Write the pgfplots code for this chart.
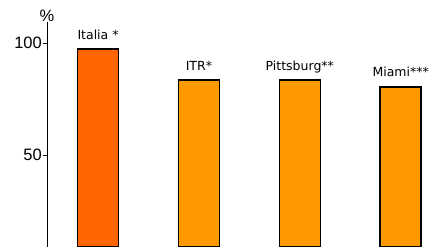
\documentclass[border=0pt]{standalone}
\usepackage{pgfplots}
\pgfplotsset{compat=1.18}
\usepackage{fontspec}
\setmainfont{DejaVu Sans}
\newfontfamily\arialf{Liberation Sans}
\definecolor{italia}{HTML}{FF6600}
\definecolor{others}{HTML}{FF9900}
\begin{document}
\begin{tikzpicture}
\begin{axis}[
  at={(47bp,0bp)}, anchor=south west,
  scale only axis, width=388bp, height=225bp,
  xmin=-0.506, xmax=3.34, ymin=9, ymax=109.4,
  clip=false,
  axis x line=none,
  axis y line*=left,
  y axis line style={line width=1bp},
  ytick={50,100},
  yticklabel style={font=\arialf\fontsize{16.5bp}{18bp}\selectfont, inner sep=1bp},
  /pgf/number format/assume math mode=true,
  major tick length=4bp,
  tick align=outside,
  tick style={black, line width=0.8bp},
  ybar, bar width=41bp, bar shift=0pt,
  point meta=explicit symbolic,
  nodes near coords,
  every node near coord/.append style={anchor=base, yshift=10bp, font=\fontsize{12.5bp}{14bp}\selectfont, black},
]
\addplot[draw=black, fill=italia, line width=1.5bp] coordinates {(0,97.3) [Italia *]};
\addplot[draw=black, fill=others, line width=1.5bp] coordinates {(1,83.5) [ITR*] (2,83.5) [Pittsburg**] (3,80.5) [Miami***]};
\node[anchor=base, font=\arialf\fontsize{16.5bp}{18bp}\selectfont, inner sep=0pt] at (rel axis cs:0,1) {\%};
\end{axis}
\pgfresetboundingbox
\useasboundingbox (0,0) rectangle (435bp,247bp);
\end{tikzpicture}
\end{document}
